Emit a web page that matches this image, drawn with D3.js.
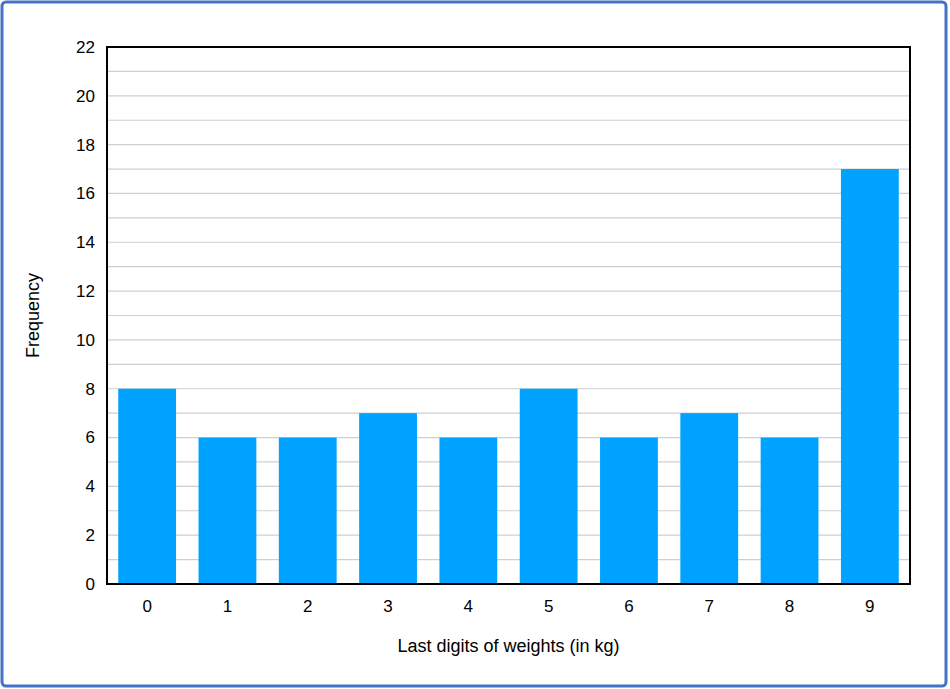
<!DOCTYPE html>
<html><head><meta charset="utf-8">
<script src="https://cdn.jsdelivr.net/npm/d3@7"></script>
<style>body{margin:0;background:#fff;font-family:"Liberation Sans",Arial,sans-serif;}</style>
</head><body>
<svg id="chart" width="950" height="689"></svg>
<script>
var digits = ['0','1','2','3','4','5','6','7','8','9'];
var frequency = [8,6,6,7,6,8,6,7,6,17];
var yTicks = [0,2,4,6,8,10,12,14,16,18,20,22];

var svg = d3.select('#chart'),
    m = {left:107, right:40, top:47, bottom:105},
    w = 950 - m.left - m.right,
    h = 689 - m.top - m.bottom;

svg.append('rect').attr('x',2).attr('y',2).attr('width',944).attr('height',684)
    .attr('rx',4).attr('fill','#fff').attr('stroke','#4472c4').attr('stroke-width',3);

var g = svg.append('g').attr('transform','translate('+m.left+','+m.top+')');
var x = d3.scaleBand().domain(digits).range([0,w]).paddingInner(0.28).paddingOuter(0.14);
var y = d3.scaleLinear().domain([0,22]).range([h,0]);

g.selectAll('.grid').data(d3.range(1,22)).enter().append('line')
    .attr('x1',0).attr('x2',w).attr('y1',function(d){return y(d);}).attr('y2',function(d){return y(d);})
    .attr('stroke','#cfcfcf').attr('stroke-width',1.2);

g.selectAll('.bar').data(frequency).enter().append('rect')
    .attr('x',function(d,i){return x(digits[i]);})
    .attr('y',function(d){return y(d);})
    .attr('width',x.bandwidth())
    .attr('height',function(d){return h - y(d);})
    .attr('fill','#00a2ff');

g.append('rect').attr('width',w).attr('height',h).attr('fill','none').attr('stroke','#000').attr('stroke-width',2);

var ya = g.append('g').call(d3.axisLeft(y).tickValues(yTicks).tickSize(0).tickPadding(12));
ya.select('.domain').remove();
ya.selectAll('text').attr('font-size',17).attr('font-family','Liberation Sans, Arial, sans-serif').attr('fill','#000');

var xa = g.append('g').attr('transform','translate(0,'+h+')').call(d3.axisBottom(x).tickSize(0).tickPadding(16));
xa.select('.domain').remove();
xa.selectAll('text').attr('font-size',17).attr('font-family','Liberation Sans, Arial, sans-serif').attr('fill','#000');

svg.append('text').attr('x',m.left + w/2).attr('y',652).attr('text-anchor','middle')
    .attr('font-size',18).text('Last digits of weights (in kg)');
svg.append('text').attr('transform','translate(39,'+(m.top+h/2)+') rotate(-90)').attr('text-anchor','middle')
    .attr('font-size',18).text('Frequency');
</script>
</body></html>
